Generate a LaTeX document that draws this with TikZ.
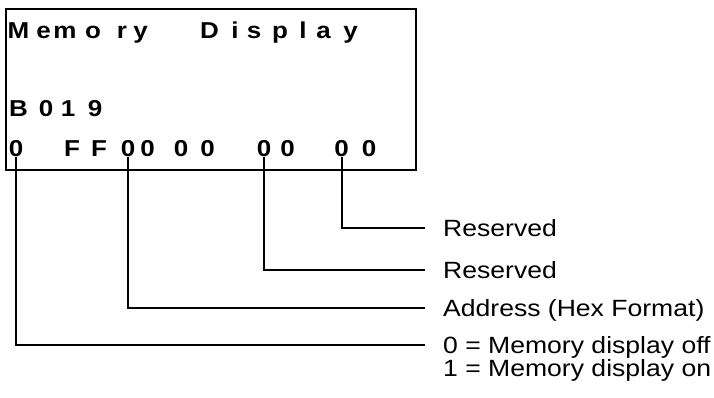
\documentclass[tikz,border=0pt]{standalone}
\usepackage{fontspec}
\setmainfont{Liberation Sans}[FakeStretch=1.13]
\usetikzlibrary{positioning}

\begin{document}
\begin{tikzpicture}[
  x=1pt, y=-1pt,
  panel/.style={rectangle, draw, line width=2pt, minimum width=410pt, minimum height=161pt, inner sep=0pt},
  chr/.style={anchor=base, inner sep=0pt, font=\fontsize{23}{26}\selectfont\bfseries},
  lbl/.style={anchor=west, inner xsep=18pt, inner ysep=0pt, text height=16.8pt, text depth=0pt, font=\fontsize{23.5}{27}\selectfont},
  lead/.style={line width=2pt}
]
\useasboundingbox (0,0) rectangle (714,397);

% display panel
\node[panel] (lcd) at (211,89.5) {};
\foreach \ch/\x [count=\i] in {M/18.5, e/43.5, m/65, o/93, r/122, y/140.5, D/209.5, i/235, s/254, p/280, l/303, a/323.5, y/350.5}
  \node[chr] (t\i) at (\x,38) {\ch};
\foreach \ch/\x [count=\i] in {B/18.5, 0/46, 1/68, 9/95}
  \node[chr] (b\i) at (\x,116.7) {\ch};
\foreach \ch/\x [count=\i] in {0/16, F/72, F/99, 0/128, 0/147.5, 0/181, 0/207.5, 0/264, 0/287.5, 0/341.5, 0/369}
  \node[chr] (d\i) at (\x,156.7) {\ch};

% field labels
\node[lbl] (lab1) at (425,228) {Reserved};
\node[lbl] (lab2) at (425,270) {Reserved};
\node[lbl] (lab3) at (425,308) {Address (Hex Format)};
\node[lbl] (lab4) at (425,345) {0 = Memory display off};
\node[lbl, below=6pt of lab4.south west, anchor=north west] (lab5) {1 = Memory display on};

\draw[lead] (d10.base) |- (lab1.west);
\draw[lead] (d8.base) |- (lab2.west);
\draw[lead] (d4.base) |- (lab3.west);
\draw[lead] (d1.base) |- (lab4.west);
\end{tikzpicture}
\end{document}
